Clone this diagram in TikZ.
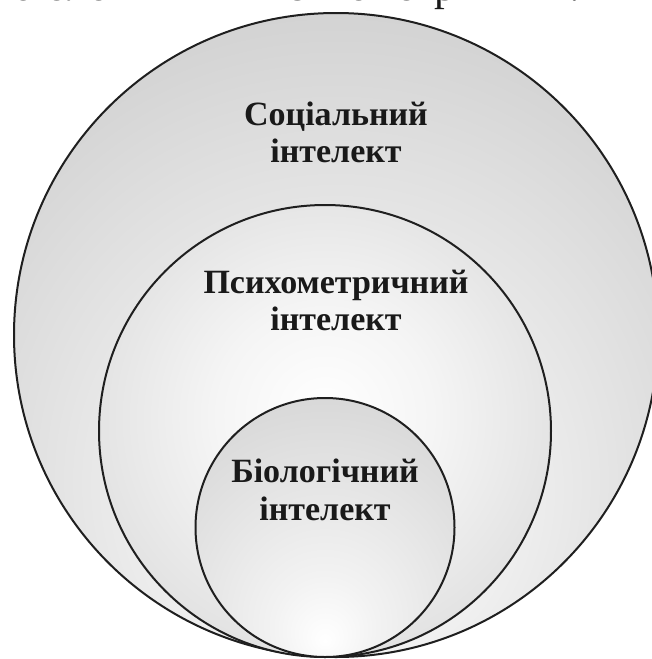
\documentclass[tikz,border=0pt]{standalone}
\usepackage{fontspec}
\setmainfont{Liberation Serif}
\pgfdeclareradialshading{glowout}{\pgfpoint{0bp}{-16bp}}{color(0bp)=(white); color(8bp)=(black!3); color(40bp)=(black!21); color(70bp)=(black!24)}
\pgfdeclareradialshading{glowmid}{\pgfpoint{0bp}{2bp}}{color(0bp)=(white); color(12bp)=(black!4); color(44bp)=(black!20); color(70bp)=(black!22)}
\pgfdeclareradialshading{glowin}{\pgfpoint{0bp}{-22bp}}{color(0bp)=(white); color(10bp)=(black!5); color(50bp)=(black!20); color(80bp)=(black!22)}
\tikzset{
  ring/.style={draw=black!88, line width=2pt},
  lbl/.style={font=\fontsize{34}{38}\selectfont\bfseries, text=black!90, anchor=base, inner sep=0pt},
  frag/.style={font=\fontsize{43}{48}\selectfont, text=black!90, anchor=base west, inner sep=0pt}
}
\begin{document}
\begin{tikzpicture}[x=1pt,y=-1pt]
\useasboundingbox (0,0) rectangle (652,659);
\clip (0,0) rectangle (652,659);
\fill[white] (0,0) rectangle (652,659);
\node[frag] (top) at (12,0) {біологічний і психометричний.};
\path[ring, shading=glowout] (336,335) circle[radius=322];
\path[ring, shading=glowmid] (325,431) circle[radius=226];
\path[ring, shading=glowin] (325,527.5) circle[radius=129.5];
\node[lbl] (s1) at (336,125) {Соціальний};
\node[lbl] (s2) at (336,162) {інтелект};
\node[lbl] (p1) at (336,293) {Психометричний};
\node[lbl] (p2) at (336,330) {інтелект};
\node[lbl] (b1) at (325,482) {Біологічний};
\node[lbl] (b2) at (325,520) {інтелект};
\end{tikzpicture}
\end{document}
